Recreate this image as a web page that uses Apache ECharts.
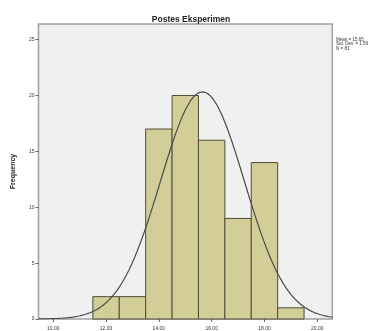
<!DOCTYPE html>
<html>
<head>
<meta charset="utf-8">
<script src="https://cdn.jsdelivr.net/npm/echarts@6/dist/echarts.min.js"></script>
<style>html,body{margin:0;padding:0;background:#fff;}#c{width:390px;height:331px;}</style>
</head>
<body>
<div id="c"></div>
<script>
// Data
const binCenters = [12, 13, 14, 15, 16, 17, 18, 19];
const frequencies = [2, 2, 17, 20, 16, 9, 14, 1];
const xTickValues = [10, 12, 14, 16, 18, 20];
const xTickLabels = ['10.00', '12.00', '14.00', '16.00', '18.00', '20.00'];
const statMean = 15.65;
const statSd = 1.59;
const statN = 81;
const statLines = ['Mean = 15.65', 'Std. Dev. = 1.59', 'N = 81'];

const xMin = 9.44, xMax = 20.57, binWidth = 1;

// Fitted normal curve defined by the displayed statistics
const curve = [];
const steps = 120;
for (let i = 0; i <= steps; i++) {
  const x = xMin + (xMax - xMin) * i / steps;
  const z = (x - statMean) / statSd;
  curve.push([x, statN * binWidth / (statSd * Math.sqrt(2 * Math.PI)) * Math.exp(-0.5 * z * z)]);
}

const chart = echarts.init(document.getElementById('c'));
chart.setOption({
  animation: false,
  title: {
    text: 'Postes Eksperimen',
    left: 186, top: 10, textAlign: 'center',
    textStyle: { fontFamily: 'Liberation Sans', fontSize: 8.5, fontWeight: 'bold', color: '#222' }
  },
  graphic: [{
    type: 'text', left: 336, top: 37,
    style: { text: statLines.join('\n'), fontFamily: 'Liberation Sans', fontSize: 4.5, lineHeight: 4.6, fill: '#333' }
  }],
  grid: {
    left: 38.5, top: 24, right: 57.7, bottom: 10,
    show: true, backgroundColor: '#f0f0f0', borderColor: '#a0a0a0', borderWidth: 1.5
  },
  xAxis: {
    type: 'value', min: xMin, max: xMax,
    axisLine: { show: false },
    splitLine: { show: false },
    axisTick: { show: true, customValues: xTickValues, length: 3, lineStyle: { color: '#666', width: 1 } },
    axisLabel: {
      customValues: xTickValues, margin: 7, fontSize: 5, color: '#333', fontFamily: 'Liberation Sans',
      formatter: v => xTickLabels[xTickValues.indexOf(Math.round(v))] || ''
    }
  },
  yAxis: {
    type: 'value', min: 0, max: 26.4, interval: 5,
    name: 'Frequency', nameLocation: 'middle', nameGap: 22, nameRotate: 90,
    nameTextStyle: { fontFamily: 'Liberation Sans', fontSize: 7, fontWeight: 'bold', color: '#222' },
    axisLine: { show: false },
    splitLine: { show: false },
    axisTick: { show: true, length: 3, lineStyle: { color: '#666', width: 1 } },
    axisLabel: { fontSize: 5, color: '#333', margin: 4, fontFamily: 'Liberation Sans', showMaxLabel: false }
  },
  series: [{
    type: 'custom',
    data: binCenters.map((c, i) => [c, frequencies[i]]),
    renderItem: (params, api) => {
      const c = api.value(0), f = api.value(1);
      const p0 = api.coord([c - binWidth / 2, f]);
      const p1 = api.coord([c + binWidth / 2, 0]);
      return {
        type: 'rect',
        shape: { x: p0[0], y: p0[1], width: p1[0] - p0[0], height: p1[1] - p0[1] },
        style: { fill: '#d3ce97', stroke: '#4e4e38', lineWidth: 1 }
      };
    },
    z: 2
  }, {
    type: 'line',
    data: curve,
    showSymbol: false, smooth: false,
    lineStyle: { color: '#4a4a4a', width: 1.2 },
    z: 3
  }]
});
</script>
</body>
</html>
